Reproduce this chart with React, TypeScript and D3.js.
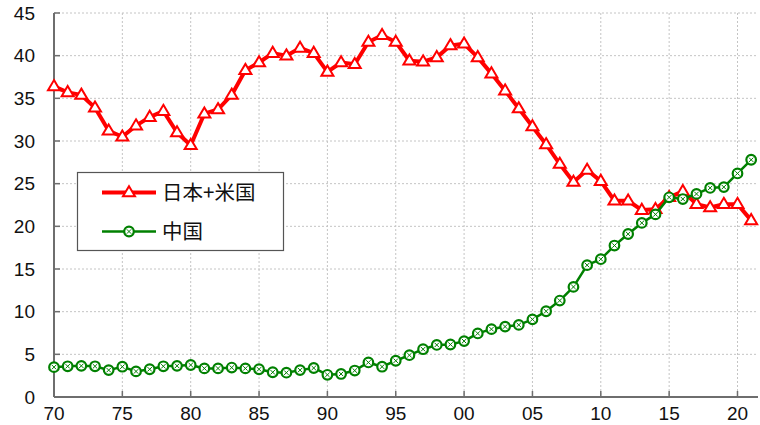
import React from "react";
import * as d3 from "d3";

const years: number[] = d3.range(1970, 2022);
const japanUS: number[] = [
  36.4, 35.7, 35.4, 33.9, 31.2, 30.5, 31.8, 32.8, 33.5, 31.0,
  29.5, 33.2, 33.7, 35.4, 38.3, 39.2, 40.3, 40.0, 40.9, 40.3,
  38.1, 39.2, 39.0, 41.6, 42.4, 41.6, 39.4, 39.3, 39.8, 41.2,
  41.4, 39.8, 37.9, 35.9, 33.8, 31.7, 29.6, 27.3, 25.2, 26.6,
  25.3, 23.0, 23.0, 21.9, 22.0, 23.4, 24.1, 22.6, 22.2, 22.6,
  22.6, 20.7,
];
const china: number[] = [
  3.5, 3.6, 3.65, 3.6, 3.15, 3.55, 3.0, 3.25, 3.6, 3.65,
  3.75, 3.35, 3.35, 3.45, 3.35, 3.25, 2.9, 2.85, 3.15, 3.4,
  2.6, 2.7, 3.1, 4.05, 3.55, 4.25, 4.9, 5.6, 6.1, 6.15,
  6.55, 7.45, 7.95, 8.25, 8.45, 9.1, 10.05, 11.3, 12.9, 15.45,
  16.15, 17.75, 19.1, 20.4, 21.4, 23.4, 23.2, 23.8, 24.5, 24.6,
  26.2, 27.8,
];
const xTicks: number[] = [1970, 1975, 1980, 1985, 1990, 1995, 2000, 2005, 2010, 2015, 2020];
const xTickLabels: string[] = ["70", "75", "80", "85", "90", "95", "00", "05", "10", "15", "20"];
const yTicks: number[] = [0, 5, 10, 15, 20, 25, 30, 35, 40, 45];
const seriesNames: string[] = ["日本+米国", "中国"];

const W = 760;
const H = 425;
const left = 54;
const right = 758;
const top = 13;
const bottom = 397;
const RED = "#ff0000";
const GREEN = "#008000";
const FONT = "'Liberation Sans', Arial, sans-serif";
const CJK = "'Noto Sans CJK JP', 'Noto Sans CJK SC', sans-serif";

const tri = "M0,-6.3L6,3.8L-6,3.8Z";

function Circ({ x, y }: { x: number; y: number }) {
  const r = 4.8;
  const c = 2.2;
  return (
    <g transform={`translate(${x},${y})`}>
      <circle r={r} fill="#fff" stroke={GREEN} strokeWidth={2.2} />
      <path d={`M${-c},${-c}L${c},${c}M${-c},${c}L${c},${-c}`} stroke={GREEN} strokeWidth={1} />
    </g>
  );
}

export default function App() {
  const x = d3.scaleLinear().domain([1970, 2021.5]).range([left, right]);
  const y = d3.scaleLinear().domain([0, 45]).range([bottom, top]);
  const line = d3
    .line<number>()
    .x((_, i) => x(years[i]))
    .y((d) => y(d));

  return (
    <svg width={W} height={H} style={{ position: "absolute", left: 0, top: 0, background: "#fff" }}>
      {yTicks.filter((t) => t > 0).map((t) => (
        <line key={"gy" + t} x1={left} x2={right} y1={y(t)} y2={y(t)} stroke="#c4c4c4" strokeWidth={1} strokeDasharray="2,2" />
      ))}
      {xTicks.filter((t) => t > 1970).map((t) => (
        <line key={"gx" + t} x1={x(t)} x2={x(t)} y1={top} y2={bottom} stroke="#c4c4c4" strokeWidth={1} strokeDasharray="2,2" />
      ))}
      <line x1={left} x2={left} y1={top} y2={bottom} stroke="#6e6e6e" strokeWidth={2} />
      <line x1={left} x2={right} y1={bottom} y2={bottom} stroke="#6e6e6e" strokeWidth={2} />
      {yTicks.map((t) => (
        <g key={"yt" + t}>
          <line x1={left} x2={left + 6} y1={y(t)} y2={y(t)} stroke="#6e6e6e" strokeWidth={1.5} />
          <text x={35} y={y(t)} dy="0.35em" textAnchor="end" fontFamily={FONT} fontSize={19} fill="#111">
            {t}
          </text>
        </g>
      ))}
      {xTicks.map((t, i) => (
        <g key={"xt" + t}>
          <line x1={x(t)} x2={x(t)} y1={bottom} y2={bottom - 6} stroke="#6e6e6e" strokeWidth={1.5} />
          <text x={x(t)} y={420} textAnchor="middle" fontFamily={FONT} fontSize={19} fill="#111">
            {xTickLabels[i]}
          </text>
        </g>
      ))}
      <path d={line(japanUS) || ""} fill="none" stroke={RED} strokeWidth={4} strokeLinejoin="round" />
      {japanUS.map((v, i) => (
        <path key={"r" + i} d={tri} transform={`translate(${x(years[i])},${y(v)})`} fill="#fff" stroke={RED} strokeWidth={2} />
      ))}
      <path d={line(china) || ""} fill="none" stroke={GREEN} strokeWidth={2.5} strokeLinejoin="round" />
      {china.map((v, i) => (
        <Circ key={"g" + i} x={x(years[i])} y={y(v)} />
      ))}
      <rect x={77.5} y={172.5} width={206} height={78} fill="#fff" stroke="#555" strokeWidth={1.2} />
      <line x1={102} x2={156} y1={192.5} y2={192.5} stroke={RED} strokeWidth={4} />
      <path d={tri} transform="translate(129,192.5)" fill="#fff" stroke={RED} strokeWidth={2} />
      <text x={162} y={193} dy="0.36em" fontFamily={CJK} fontSize={20.5} fill="#111">
        {seriesNames[0]}
      </text>
      <line x1={102} x2={156} y1={231.5} y2={231.5} stroke={GREEN} strokeWidth={2.5} />
      <Circ x={129} y={231.5} />
      <text x={162} y={232} dy="0.36em" fontFamily={CJK} fontSize={20.5} fill="#111">
        {seriesNames[1]}
      </text>
    </svg>
  );
}
